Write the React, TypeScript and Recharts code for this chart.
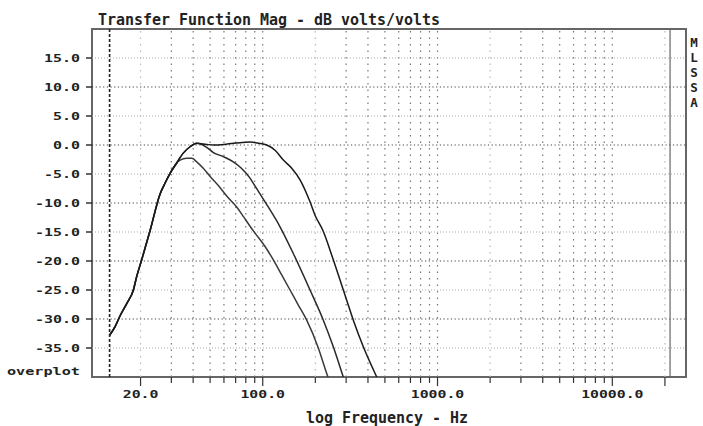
import React from "react";
import { LineChart, Line, XAxis, YAxis, ReferenceLine, ReferenceArea } from "recharts";

// low frequency rise, shared by all three curves
const lowFreq = [13.3, 14.3, 15.3, 16.7, 18.2, 19.0, 20.3, 22.7, 25.9, 27.6, 29.5, 32.2];
const lowDb = [-32.8, -31.3, -29.4, -27.3, -25.0, -22.7, -19.8, -14.7, -8.4, -6.6, -4.9, -3.1];

// widest response
const freqA = [35.1, 38.4, 41.9, 47.8, 52.2, 60, 67.9, 74.2, 84.6, 95, 105.4, 117.6, 131.2, 146.5, 163.5, 186.5, 199.2, 222.2, 253.4, 289.1, 329.9, 376.3, 448.9, 500];
const dbA = [-1.4, -0.3, 0.3, 0.1, 0.0, 0.1, 0.3, 0.4, 0.5, 0.3, 0.0, -0.9, -2.6, -4.0, -6.0, -9.8, -12.1, -14.9, -19.8, -25.0, -30.2, -34.8, -40.0, -43.0];

// middle response
const freqB = [35.1, 38.4, 41.9, 43.8, 47.8, 52.2, 59.5, 67.9, 75.5, 84.6, 88.4, 103.1, 125.6, 149.6, 186.5, 222.2, 253.4, 289.1, 320];
const dbB = [-1.4, -0.3, 0.3, 0.2, -0.4, -1.3, -2.0, -2.9, -4.0, -5.7, -6.6, -9.8, -14.1, -18.7, -25.0, -30.2, -34.8, -40.0, -44.0];

// narrowest response
const freqC = [33.7, 36.7, 39.3, 41.9, 45.7, 49.9, 55.7, 62.2, 71.0, 77.4, 84.6, 90.4, 103.1, 115.0, 128.4, 143.3, 159.8, 178.5, 208.0, 232.3, 250];
const dbC = [-2.6, -2.3, -2.3, -2.9, -4.0, -5.4, -7.0, -8.8, -10.7, -12.3, -14.0, -15.2, -17.5, -19.8, -22.4, -25.0, -27.6, -30.2, -35.0, -39.4, -42.0];

const freqTicks = [
  20, 30, 40, 50, 60, 70, 80, 90,
  100, 200, 300, 400, 500, 600, 700, 800, 900,
  1000, 2000, 3000, 4000, 5000, 6000, 7000, 8000, 9000,
  10000, 20000,
];
const freqLabels: Record<number, string> = { 20: "20.0", 100: "100.0", 1000: "1000.0", 10000: "10000.0" };
const lightFreqs = [20, 200, 2000, 20000];

const dbTicks = [-35, -30, -25, -20, -15, -10, -5, 0, 5, 10, 15];
const dbMajor = [-30, -20, -10, 0, 10];

const freqDomain = [10.55, 26400];
const dbDomain = [-40, 20];
const lowLimit = 13.3;
const highLimit = 21400;

const sideLetters = ["M", "L", "S", "S", "A"];

const FONT = "'DejaVu Sans Mono', monospace";

const toPoints = (f: number[], d: number[]) => f.map((v, i) => ({ f: v, db: d[i] }));

const curveA = [...toPoints(lowFreq, lowDb), ...toPoints(freqA, dbA)];
const curveB = [...toPoints(lowFreq, lowDb), ...toPoints(freqB, dbB)];
const curveC = [...toPoints(lowFreq, lowDb), ...toPoints(freqC, dbC)];

const XTick = (props: any) => {
  const { x, y, payload } = props;
  const label = freqLabels[payload.value];
  const major = label !== undefined || payload.value === 20000;
  return (
    <g>
      {major && <line x1={x} x2={x} y1={y - 8} y2={y - 5} stroke="#333" strokeWidth={1.2} />}
      {label && (
        <text
          x={x - label.length * 4.45}
          y={y + 7}
          textLength={label.length * 8.9}
          lengthAdjust="spacingAndGlyphs"
          fontFamily={FONT}
          fontWeight="bold"
          fontSize={11}
          fill="#222"
        >
          {label}
        </text>
      )}
    </g>
  );
};

const YTick = (props: any) => {
  const { x, y, payload } = props;
  const label = Number(payload.value).toFixed(1);
  const w = label.length * 9;
  return (
    <text
      x={x - w}
      y={y + 4}
      textLength={w}
      lengthAdjust="spacingAndGlyphs"
      fontFamily={FONT}
      fontWeight="bold"
      fontSize={11}
      fill="#222"
    >
      {label}
    </text>
  );
};

export default function App() {
  return (
    <div style={{ position: "absolute", left: 0, top: 0, width: 703, height: 426, background: "#fff" }}>
      <LineChart width={703} height={426} margin={{ top: 29, right: 17, bottom: 19, left: 0 }}>
        <XAxis
          dataKey="f"
          type="number"
          scale="log"
          domain={freqDomain}
          allowDataOverflow
          ticks={freqTicks}
          interval={0}
          height={30}
          tickSize={6}
          tickMargin={8}
          axisLine={false}
          tickLine={{ stroke: "#333", strokeWidth: 1.2 }}
          tick={<XTick />}
        />
        <YAxis
          type="number"
          domain={dbDomain}
          allowDataOverflow
          ticks={dbTicks}
          interval={0}
          width={92}
          tickSize={6}
          tickMargin={6}
          axisLine={false}
          tickLine={{ stroke: "#333", strokeWidth: 1.5 }}
          tick={<YTick />}
        />

        {freqTicks.map((f) => (
          <ReferenceLine
            key={"v" + f}
            x={f}
            stroke={lightFreqs.includes(f) ? "#bbb" : "#777"}
            strokeDasharray="1.5 5"
            strokeWidth={1.2}
          />
        ))}
        {dbTicks.map((d) => (
          <ReferenceLine
            key={"h" + d}
            y={d}
            stroke={dbMajor.includes(d) ? "#444" : "#aaa"}
            strokeDasharray={dbMajor.includes(d) ? "1.2 2.5" : "1 2"}
            strokeWidth={1.2}
          />
        ))}
        <ReferenceLine x={lowLimit} stroke="#222" strokeDasharray="3 2" strokeWidth={1.6} />
        <ReferenceLine x={highLimit} stroke="#666" strokeWidth={1.2} />

        <Line data={curveC} dataKey="db" type="monotone" stroke="#3a3a3a" strokeWidth={1.5} dot={false} isAnimationActive={false} />
        <Line data={curveB} dataKey="db" type="monotone" stroke="#2a2a2a" strokeWidth={1.5} dot={false} isAnimationActive={false} />
        <Line data={curveA} dataKey="db" type="monotone" stroke="#1a1a1a" strokeWidth={1.5} dot={false} isAnimationActive={false} />

        <ReferenceArea
          x1={freqDomain[0]}
          x2={freqDomain[1]}
          y1={dbDomain[0]}
          y2={dbDomain[1]}
          fill="none"
          stroke="#666"
          strokeWidth={2}
          ifOverflow="visible"
        />
      </LineChart>
      <svg width={703} height={426} style={{ position: "absolute", left: 0, top: 0, pointerEvents: "none" }}>
        <text x={98} y={25} textLength={342} lengthAdjust="spacingAndGlyphs" fontFamily={FONT} fontWeight="bold" fontSize={16} fill="#222">
          Transfer Function Mag - dB volts/volts
        </text>
        <text x={306} y={423} textLength={162} lengthAdjust="spacingAndGlyphs" fontFamily={FONT} fontWeight="bold" fontSize={16} fill="#222">
          log Frequency - Hz
        </text>
        <text x={7} y={375} textLength={73} lengthAdjust="spacingAndGlyphs" fontFamily={FONT} fontWeight="bold" fontSize={11} fill="#222">
          overplot
        </text>
        {sideLetters.map((c, i) => (
          <text key={i} x={694} y={46.5 + i * 15} textAnchor="middle" fontFamily={FONT} fontWeight="bold" fontSize={12.5} fill="#222">
            {c}
          </text>
        ))}
      </svg>
    </div>
  );
}
